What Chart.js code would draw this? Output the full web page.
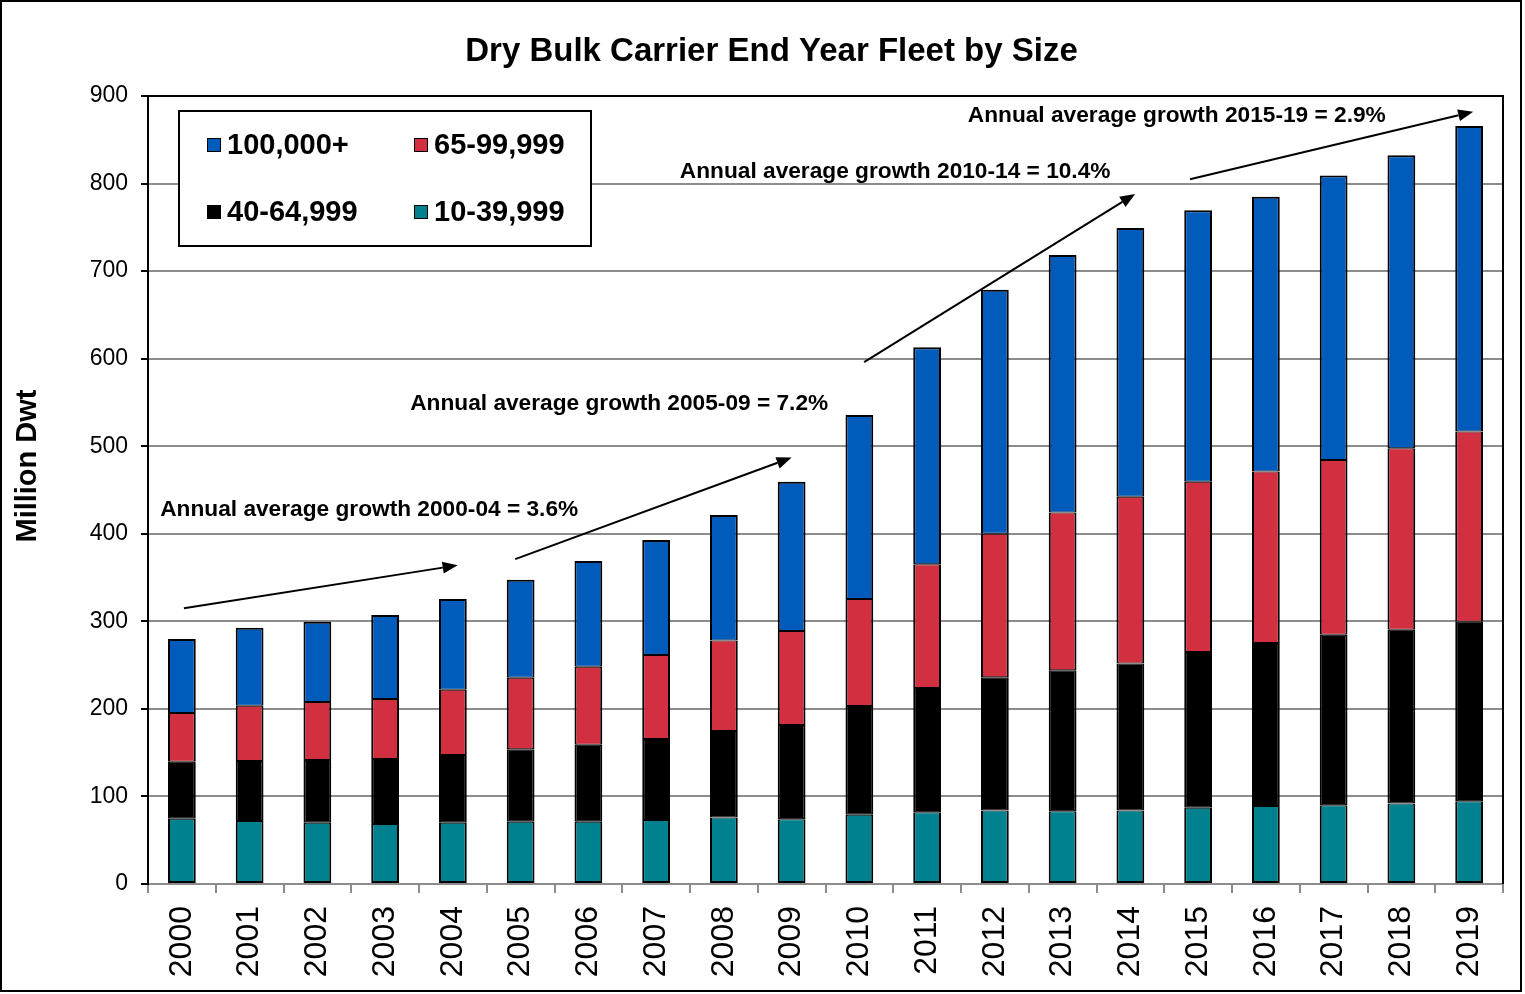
<!DOCTYPE html>
<html>
<head>
<meta charset="utf-8">
<script src="https://cdn.jsdelivr.net/npm/chart.js@4.4.1/dist/chart.umd.min.js"></script>
<style>
  html, body { margin: 0; padding: 0; background: #ffffff; }
  #wrap { width: 1525px; height: 994px; }
</style>
</head>
<body>
<div id="wrap"><canvas id="chart" width="1525" height="994"></canvas></div>
<script>
// ---- Data (million dwt, end of year) ----
const years = ['2000','2001','2002','2003','2004','2005','2006','2007','2008','2009',
               '2010','2011','2012','2013','2014','2015','2016','2017','2018','2019'];
const size10to39  = [74.5, 72.0, 70.0, 68.5, 70.0, 71.0, 71.0, 73.0, 76.0, 74.0,
                     79.0, 82.0, 84.0, 83.0, 84.0, 87.0, 89.0, 90.0, 92.0, 94.5];
const size40to64  = [65.2, 68.5, 71.6, 74.3, 77.3, 82.8, 88.0, 92.6, 98.8, 107.6,
                     124.3, 142.0, 152.2, 161.2, 167.8, 178.0, 186.3, 194.6, 198.3, 205.0];
const size65to99  = [55.6, 63.2, 66.3, 68.5, 74.7, 81.9, 89.0, 96.0, 103.2, 107.4,
                     122.2, 141.3, 163.8, 180.2, 190.4, 194.5, 195.7, 199.8, 207.4, 217.2];
const size100plus = [84.5, 89.1, 91.7, 96.0, 103.5, 111.9, 121.0, 131.4, 143.5, 170.5,
                     210.2, 247.7, 278.8, 294.1, 307.1, 310.0, 314.0, 324.9, 334.7, 349.1];
const seriesLabels = ['10-39,999', '40-64,999', '65-99,999', '100,000+'];
const yTicks = [0, 100, 200, 300, 400, 500, 600, 700, 800, 900];

// growth annotations: text anchor and arrow ends in (category index, value) space
const growthTexts = ['Annual average growth 2000-04 = 3.6%',
                     'Annual average growth 2005-09 = 7.2%',
                     'Annual average growth 2010-14 = 10.4%',
                     'Annual average growth 2015-19 = 2.9%'];
const growthTextAt = [[-0.32, 428], [3.37, 549], [7.35, 814], [11.6, 878]];
const growthArrowFrom = [[0.03, 315], [4.92, 371], [10.07, 596], [14.88, 805]];
const growthArrowTo   = [[4.07, 364], [9.0, 487], [14.07, 788], [19.06, 882]];

const FONT = "'Liberation Sans', Arial, Helvetica, sans-serif";
Chart.defaults.font.family = FONT;
Chart.defaults.color = '#000000';

const colors = ['#00818F', '#000000', '#D22F40', '#005BBB'];
const segBorders = [
  { top: 1, bottom: 2, left: 2, right: 2 },
  { top: 1, bottom: 1, left: 2, right: 2 },
  { top: 1, bottom: 1, left: 2, right: 2 },
  { top: 2, bottom: 1, left: 2, right: 2 }
];

function pt(chart, p) {
  return [chart.scales.x.getPixelForValue(p[0]), chart.scales.y.getPixelForValue(p[1])];
}

const decorPlugin = {
  id: 'decor',
  afterDraw(chart) {
    const ctx = chart.ctx;
    const ca = chart.chartArea;
    ctx.save();
    // plot area frame (top & right)
    ctx.strokeStyle = '#000000';
    ctx.lineWidth = 2;
    ctx.beginPath();
    ctx.moveTo(ca.left, ca.top);
    ctx.lineTo(ca.right, ca.top);
    ctx.lineTo(ca.right, ca.bottom);
    ctx.stroke();

    // legend box
    const lx = ca.left + 31, ly = ca.top + 15, lw = 412, lh = 135;
    ctx.fillStyle = '#ffffff';
    ctx.fillRect(lx, ly, lw, lh);
    ctx.lineWidth = 2;
    ctx.strokeRect(lx, ly, lw, lh);
    const order = [3, 2, 1, 0];
    const colX = [lx + 28, lx + 235];
    const rowY = [ly + 34, ly + 101];
    ctx.font = 'bold 29px ' + FONT;
    ctx.textBaseline = 'middle';
    ctx.textAlign = 'left';
    order.forEach((di, k) => {
      const ds = chart.data.datasets[di];
      const cx = colX[k % 2], cy = rowY[Math.floor(k / 2)];
      ctx.fillStyle = ds.backgroundColor;
      ctx.fillRect(cx, cy - 7, 14, 14);
      ctx.lineWidth = 1;
      ctx.strokeStyle = '#000000';
      ctx.strokeRect(cx + 0.5, cy - 6.5, 13, 13);
      ctx.fillStyle = '#000000';
      ctx.fillText(ds.label, cx + 20, cy + 1);
    });

    // growth annotations
    ctx.font = 'bold 22.7px ' + FONT;
    ctx.textAlign = 'left';
    ctx.textBaseline = 'middle';
    ctx.fillStyle = '#000000';
    ctx.strokeStyle = '#000000';
    growthTexts.forEach((t, i) => {
      const [tx, ty] = pt(chart, growthTextAt[i]);
      ctx.fillText(t, tx, ty);
      const [x1, y1] = pt(chart, growthArrowFrom[i]);
      const [x2, y2] = pt(chart, growthArrowTo[i]);
      const ang = Math.atan2(y2 - y1, x2 - x1);
      const L = 15, W = 6;
      const bx = x2 - L * Math.cos(ang), by = y2 - L * Math.sin(ang);
      ctx.lineWidth = 2;
      ctx.beginPath();
      ctx.moveTo(x1, y1);
      ctx.lineTo(bx, by);
      ctx.stroke();
      ctx.beginPath();
      ctx.moveTo(x2, y2);
      ctx.lineTo(bx + W * Math.sin(ang), by - W * Math.cos(ang));
      ctx.lineTo(bx - W * Math.sin(ang), by + W * Math.cos(ang));
      ctx.closePath();
      ctx.fill();
    });

    // y-axis title
    ctx.save();
    ctx.translate(28, 466);
    ctx.rotate(-Math.PI / 2);
    ctx.font = 'bold 29px ' + FONT;
    ctx.textAlign = 'center';
    ctx.textBaseline = 'middle';
    ctx.fillText('Million Dwt', 0, 0);
    ctx.restore();

    // outer frame
    ctx.lineWidth = 2;
    ctx.strokeStyle = '#000000';
    ctx.strokeRect(1, 1, 1520, 990);
    ctx.restore();
  }
};

new Chart(document.getElementById('chart'), {
  type: 'bar',
  data: {
    labels: years,
    datasets: [
      { label: seriesLabels[0], data: size10to39,  backgroundColor: colors[0], borderWidth: segBorders[0] },
      { label: seriesLabels[1], data: size40to64,  backgroundColor: colors[1], borderWidth: segBorders[1] },
      { label: seriesLabels[2], data: size65to99,  backgroundColor: colors[2], borderWidth: segBorders[2] },
      { label: seriesLabels[3], data: size100plus, backgroundColor: colors[3], borderWidth: segBorders[3] }
    ].map(d => Object.assign(d, {
      borderColor: '#000000', borderSkipped: false,
      categoryPercentage: 1.0, barPercentage: 0.41
    }))
  },
  options: {
    responsive: false,
    animation: false,
    devicePixelRatio: 1,
    layout: { padding: { left: 40, right: 22, top: 0, bottom: 0 } },
    plugins: {
      legend: { display: false },
      tooltip: { enabled: false },
      title: {
        display: true,
        text: 'Dry Bulk Carrier End Year Fleet by Size',
        font: { size: 33, weight: 'bold', family: FONT, lineHeight: 1.2 },
        color: '#000000',
        padding: { top: 32, bottom: 24.4 }
      }
    },
    scales: {
      x: {
        stacked: true,
        offset: true,
        afterFit(scale) { scale.height = 110; },
        grid: {
          display: true, drawOnChartArea: false, drawTicks: true, offset: true,
          color: '#8C8C8C', lineWidth: 2, tickLength: 9
        },
        border: { display: true, color: '#8C8C8C', width: 2 },
        ticks: {
          autoSkip: false, minRotation: 90, maxRotation: 90, padding: 13,
          font: { size: 32, family: FONT }, color: '#000000'
        }
      },
      y: {
        stacked: true,
        min: 0, max: 900,
        afterFit(scale) { scale.width = 108; },
        afterBuildTicks(scale) { scale.ticks = yTicks.map(v => ({ value: v })); },
        grid: {
          color: '#8C8C8C', lineWidth: 2, drawTicks: true, tickLength: 7,
          tickColor: '#000000', tickWidth: 2
        },
        border: { display: true, color: '#000000', width: 2 },
        ticks: {
          padding: 13, font: { size: 23, family: FONT }, color: '#000000'
        }
      }
    }
  },
  plugins: [decorPlugin]
});
</script>
</body>
</html>
